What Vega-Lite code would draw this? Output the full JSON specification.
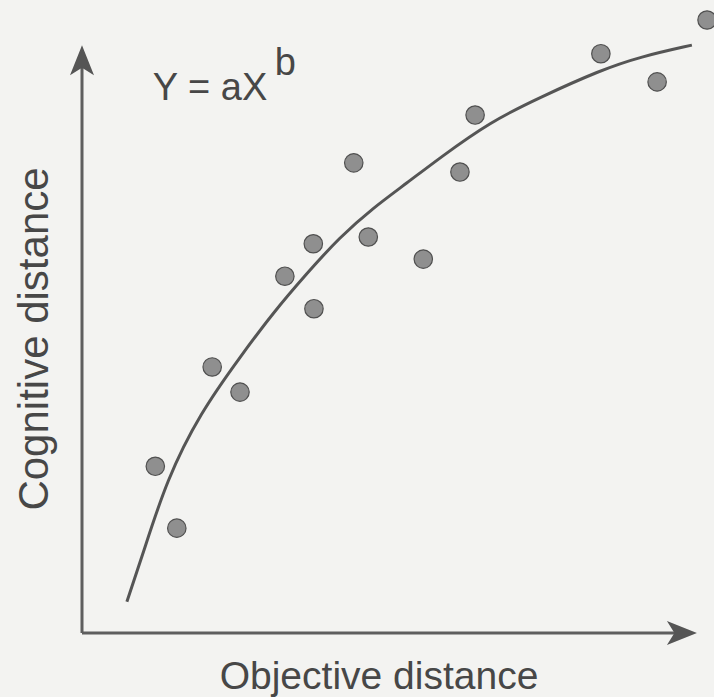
{
  "$schema": "https://vega.github.io/schema/vega-lite/v6.json",
  "width": 632,
  "height": 613,
  "autosize": {"type": "none"},
  "padding": {"left": 82, "top": 20, "right": 0, "bottom": 64},
  "background": "#f3f3f1",
  "config": {
    "view": {"stroke": null},
    "axis": {"domain": false, "ticks": false, "labels": false, "grid": false, "titleFont": "Liberation Sans", "titleFontWeight": "normal", "titleColor": "#474747"}
  },
  "datasets": {
    "observations": [
      {"x": 11.6, "y": 27.2}, {"x": 15.0, "y": 17.1}, {"x": 20.6, "y": 43.4}, {"x": 25.0, "y": 39.3},
      {"x": 32.1, "y": 58.2}, {"x": 36.6, "y": 63.5}, {"x": 36.7, "y": 52.9}, {"x": 43.0, "y": 76.7},
      {"x": 45.3, "y": 64.6}, {"x": 54.0, "y": 61.0}, {"x": 59.8, "y": 75.2}, {"x": 62.2, "y": 84.5},
      {"x": 82.1, "y": 94.5}, {"x": 91.0, "y": 89.9}, {"x": 98.9, "y": 100.0}
    ],
    "fit": [
      {"x": 7.1, "y": 5.1}, {"x": 9.7, "y": 13.1}, {"x": 13.4, "y": 25.0}, {"x": 18.7, "y": 35.9},
      {"x": 25.0, "y": 45.0}, {"x": 30.2, "y": 52.2}, {"x": 35.6, "y": 58.7}, {"x": 40.8, "y": 64.6},
      {"x": 46.0, "y": 69.3}, {"x": 51.4, "y": 73.4}, {"x": 56.6, "y": 77.5}, {"x": 64.6, "y": 83.4},
      {"x": 72.5, "y": 87.4}, {"x": 82.0, "y": 91.8}, {"x": 88.3, "y": 94.0}, {"x": 96.5, "y": 95.9}
    ],
    "axes": [
      {"x": 0, "y": 0, "x2": 0, "y2": 94.0},
      {"x": 0, "y": 0, "x2": 96.0, "y2": 0}
    ],
    "heads": [
      {"x": 0, "y": 95.9, "dir": "up"},
      {"x": 97.3, "y": 0, "dir": "right"}
    ],
    "formula": [
      {"x": 11.2, "y": 86.9, "t": "Y = aX"},
      {"x": 30.5, "y": 91.0, "t": "b"}
    ]
  },
  "encoding": {
    "x": {"field": "x", "type": "quantitative", "scale": {"domain": [0, 100], "nice": false, "zero": false},
      "axis": {"title": "Objective distance", "titleFontSize": 39, "titleX": 296.5, "titleY": 55, "titleBaseline": "alphabetic", "titleAlign": "center", "titleAngle": 0}},
    "y": {"field": "y", "type": "quantitative", "scale": {"domain": [0, 100], "nice": false, "zero": false},
      "axis": {"title": "Cognitive distance", "titleFontSize": 42, "titleX": -35, "titleY": 318.5, "titleBaseline": "alphabetic", "titleAlign": "center", "titleAngle": 270}}
  },
  "layer": [
    {
      "data": {"name": "axes"},
      "mark": {"type": "rule", "color": "#5e5e5e", "strokeWidth": 3},
      "encoding": {"x2": {"field": "x2"}, "y2": {"field": "y2"}}
    },
    {
      "data": {"name": "heads"},
      "mark": {"type": "point", "filled": true, "color": "#555555", "size": 900, "opacity": 1},
      "encoding": {
        "shape": {"field": "dir", "type": "nominal", "legend": null,
          "scale": {"domain": ["up", "right"], "range": ["M0,0L0.8,2L0,1.5L-0.8,2Z", "M0,0L-2,-0.8L-1.5,0L-2,0.8Z"]}}
      }
    },
    {
      "data": {"name": "fit"},
      "mark": {"type": "line", "color": "#555555", "strokeWidth": 3, "interpolate": "basis"},
      "encoding": {}
    },
    {
      "data": {"name": "observations"},
      "mark": {"type": "circle", "size": 340, "fill": "#8f8f8f", "stroke": "#505050", "strokeWidth": 1.2, "opacity": 1}
    },
    {
      "data": {"name": "formula"},
      "mark": {"type": "text", "font": "Liberation Sans", "fontSize": 38, "align": "left", "baseline": "alphabetic", "color": "#474747"},
      "encoding": {"text": {"field": "t"}}
    }
  ]
}
